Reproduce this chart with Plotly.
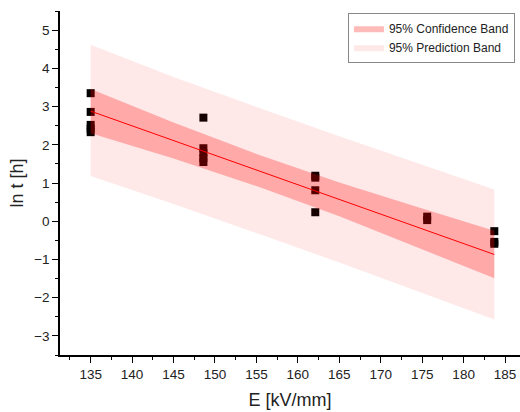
import plotly.graph_objects as go

# Measured data points (E in kV/mm, ln t in h)
E_135 = [135.0] * 5
lnt_135 = [3.35, 2.86, 2.52, 2.42, 2.33]
E_148 = [148.6] * 5
lnt_148 = [2.71, 1.91, 1.78, 1.65, 1.55]
E_162 = [162.1] * 4
lnt_162 = [1.19, 1.14, 0.81, 0.235]
E_175 = [175.6] * 2
lnt_175 = [0.12, 0.03]
E_183 = [183.7] * 3
lnt_183 = [-0.26, -0.54, -0.59]

points_x = E_135 + E_148 + E_162 + E_175 + E_183
points_y = lnt_135 + lnt_148 + lnt_162 + lnt_175 + lnt_183

# Linear fit
fit_x = [135.0, 183.7]
fit_y = [2.88, -0.87]

# Band edges
band_x = [135.0, 145.0, 155.0, 165.0, 175.0, 183.7]
conf_upper = [3.46, 2.58, 1.76, 1.01, 0.33, -0.25]
conf_lower = [2.30, 1.64, 0.92, 0.13, -0.73, -1.49]
pred_upper = [4.62, 3.77, 2.99, 2.22, 1.48, 0.83]
pred_lower = [1.18, 0.45, -0.31, -1.08, -1.88, -2.57]

x_ticks = [135, 140, 145, 150, 155, 160, 165, 170, 175, 180, 185]
y_ticks = [-3, -2, -1, 0, 1, 2, 3, 4, 5]

X_RANGE = [131.3, 186.8]
Y_RANGE = [-3.5, 5.5]

font_family = "Liberation Sans, Arial, sans-serif"
text_color = "#222"

fig = go.Figure()

# markers on the base axes (drawn beneath the translucent bands)
fig.add_trace(go.Scatter(
    x=points_x, y=points_y, mode="markers",
    marker=dict(symbol="square", size=8, color="black", line=dict(width=0)),
    showlegend=False, xaxis="x", yaxis="y",
))

fig.add_trace(go.Scatter(
    x=band_x + band_x[::-1], y=pred_upper + pred_lower[::-1],
    mode="lines", fill="toself", fillcolor="rgba(255,0,0,0.09)",
    line=dict(width=0, color="rgba(0,0,0,0)"),
    name="95% Prediction Band", legendrank=2, xaxis="x2", yaxis="y2",
))

fig.add_trace(go.Scatter(
    x=band_x + band_x[::-1], y=conf_upper + conf_lower[::-1],
    mode="lines", fill="toself", fillcolor="rgba(255,0,0,0.27)",
    line=dict(width=0, color="rgba(0,0,0,0)"),
    name="95% Confidence Band", legendrank=1, xaxis="x2", yaxis="y2",
))

fig.add_trace(go.Scatter(
    x=fit_x, y=fit_y, mode="lines",
    line=dict(color="#ff0000", width=1),
    showlegend=False, xaxis="x2", yaxis="y2",
))

axis_common = dict(
    showline=True, linecolor="black", linewidth=1.5,
    ticks="outside", ticklen=6, tickwidth=1.2, tickcolor="black",
    showgrid=False, zeroline=False, mirror=False,
    tickfont=dict(family=font_family, size=13.5, color=text_color),
)

fig.update_layout(
    width=520, height=412,
    margin=dict(l=60, r=0, t=11, b=57, autoexpand=False),
    paper_bgcolor="white", plot_bgcolor="white",
    font=dict(family=font_family, color=text_color),
    xaxis=dict(
        range=X_RANGE, tickvals=x_ticks,
        title=dict(text="E [kV/mm]", font=dict(size=18, family=font_family, color=text_color), standoff=12),
        minor=dict(ticks="outside", ticklen=3, dtick=2.5, tick0=135, tickcolor="black", tickwidth=1.2),
        **axis_common,
    ),
    yaxis=dict(
        range=Y_RANGE, tickvals=y_ticks,
        title=dict(text="ln t [h]", font=dict(size=18, family=font_family, color=text_color), standoff=6),
        minor=dict(ticks="outside", ticklen=3, dtick=0.5, tick0=0, tickcolor="black", tickwidth=1.2),
        **axis_common,
    ),
    xaxis2=dict(range=X_RANGE, overlaying="x", visible=False, showgrid=False, zeroline=False),
    yaxis2=dict(range=Y_RANGE, overlaying="y", visible=False, showgrid=False, zeroline=False),
    legend=dict(
        x=0.989, y=0.995, xanchor="right", yanchor="top",
        bgcolor="white", bordercolor="#888", borderwidth=1,
        font=dict(family=font_family, size=12, color=text_color),
        tracegroupgap=0, itemwidth=30,
    ),
)

fig.write_html(
    "out.html",
    config={"displayModeBar": False},
    post_script="document.body.style.margin='0';document.body.style.overflow='hidden';",
)
